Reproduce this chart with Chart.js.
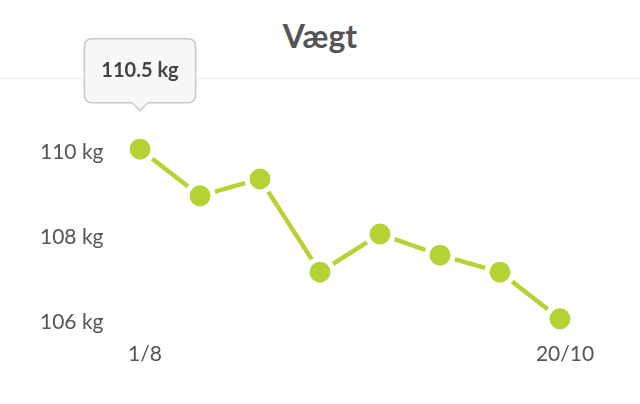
<!DOCTYPE html>
<html lang="da">
<head>
    <meta charset="UTF-8">
    <title>Vægt</title>
    <script src="https://cdn.jsdelivr.net/npm/chart.js"></script>
    <style>
        * { margin: 0; padding: 0; box-sizing: border-box; }
        body { width: 640px; height: 404px; background: #fff; position: relative; overflow: hidden; font-family: Lato, sans-serif; }
        .header {
            position: absolute; left: 0; top: 0; width: 640px; height: 79px;
            border-bottom: 1.5px solid #ececec;
        }
        .header h1 {
            position: absolute; left: 0; right: 0; top: 14px;
            text-align: center; font-size: 32px; font-weight: 700; color: #555; line-height: 44px;
        }
        #wrap { position: absolute; left: 0; top: 0; width: 640px; height: 404px; }
    </style>
</head>
<body>
    <div class="header"><h1>Vægt</h1></div>
    <div id="wrap"><canvas id="weightChart"></canvas></div>
    <script>
        const dates = ['1/8', '', '', '', '', '', '', '20/10'];
        const weights = [110.5, 109.4, 109.8, 107.6, 108.5, 108.0, 107.6, 106.5];
        const yTicks = [106, 108, 110];
        const unit = ' kg';

        const green = '#b4d335';
        const textGrey = '#555555';

        Chart.Tooltip.positioners.abovePoint = function (items) {
            if (!items.length) return false;
            const el = items[0].element;
            return { x: el.x, y: el.y - 38.5 };
        };

        const ctx = document.getElementById('weightChart').getContext('2d');
        const chart = new Chart(ctx, {
            type: 'line',
            data: {
                labels: dates,
                datasets: [{
                    data: weights,
                    borderColor: green,
                    borderWidth: 4.5,
                    backgroundColor: green,
                    pointBackgroundColor: green,
                    pointBorderColor: '#ffffff',
                    pointBorderWidth: 5,
                    pointRadius: 13,
                    pointHoverRadius: 13,
                    pointHoverBorderWidth: 5,
                    tension: 0,
                    clip: false
                }]
            },
            options: {
                responsive: true,
                maintainAspectRatio: false,
                animation: false,
                events: [],
                layout: { padding: { left: 40, right: 80, top: 128, bottom: 0 } },
                plugins: {
                    legend: { display: false },
                    title: { display: false },
                    tooltip: {
                        enabled: true,
                        position: 'abovePoint',
                        yAlign: 'bottom',
                        xAlign: 'center',
                        caretSize: 8,
                        caretPadding: 0,
                        cornerRadius: 8,
                        backgroundColor: '#f7f7f7',
                        borderColor: '#c9c9c9',
                        borderWidth: 1.5,
                        bodyColor: '#444444',
                        bodyFont: { family: 'Lato', size: 20, weight: 'bold' },
                        padding: { x: 17, y: 20 },
                        displayColors: false,
                        callbacks: {
                            title: () => '',
                            label: (c) => c.parsed.y.toFixed(1) + unit
                        }
                    }
                },
                scales: {
                    x: {
                        grid: { display: false, drawTicks: false },
                        border: { display: false },
                        afterFit: (axis) => { axis.height = 64; },
                        ticks: {
                            autoSkip: false,
                            maxRotation: 0,
                            padding: 2,
                            labelOffset: 5,
                            color: textGrey,
                            font: { family: 'Lato', size: 21 }
                        }
                    },
                    y: {
                        min: 106,
                        max: 111,
                        grid: { display: false, drawTicks: false },
                        border: { display: false },
                        afterFit: (axis) => { axis.width = 100; },
                        afterBuildTicks: (axis) => { axis.ticks = yTicks.map(v => ({ value: v })); },
                        ticks: {
                            crossAlign: 'far',
                            labelOffset: -18,
                            color: textGrey,
                            font: { family: 'Lato', size: 21 },
                            callback: (v) => v + unit
                        }
                    }
                }
            }
        });

        const p = chart.getDatasetMeta(0).data[0];
        chart.tooltip.setActiveElements([{ datasetIndex: 0, index: 0 }], { x: p.x, y: p.y });
        chart.update();
    </script>
</body>
</html>
